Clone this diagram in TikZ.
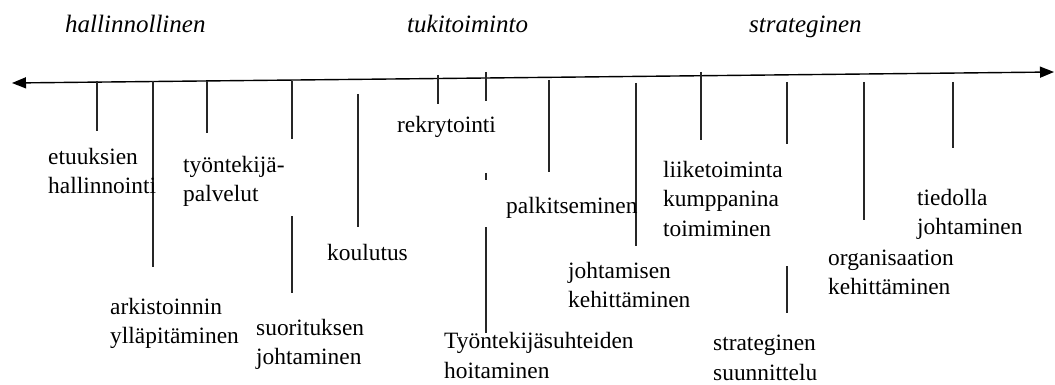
\documentclass[tikz,border=0pt]{standalone}
\usepackage{fontspec}
\setmainfont{Liberation Serif}
\usetikzlibrary{arrows.meta}
\begin{document}
\begin{tikzpicture}[x=1pt,y=-1pt,
  lbl/.style={anchor=base west,inner sep=0pt,align=left,font=\fontsize{23.4}{29.5}\selectfont},
  hdr/.style={anchor=base west,inner sep=0pt,font=\fontsize{25}{30}\selectfont\itshape},
  tick/.style={line width=1.2pt,draw=black!85},
  axisline/.style={line width=1.4pt,{Triangle[length=14pt,width=11pt]}-{Triangle[length=14pt,width=11pt]}}]
\useasboundingbox (0,0) rectangle (1055,385);
% axis
\coordinate (aL) at (12,83);
\coordinate (aR) at (1054,72);
\draw[axisline] (aL) -- (aR);
% headers
\node[hdr] (h1) at (65,33) {hallinnollinen};
\node[hdr] (h2) at (407,33) {tukitoiminto};
\node[hdr] (h3) at (749,33) {strateginen};
% ticks
\foreach \x/\ya/\yb in {97/81/131, 153/81/267, 207/81/133, 292/81/139, 292/216/293,
  358/94/227, 438/75/104, 486/72/101, 486/173/180, 486/227/333, 549/80/172,
  636/83/246, 701/72/140, 787/82/144, 787/266/313, 864/82/220, 953/82/148}
  {\draw[tick] (\x,\ya) -- (\x,\yb);}
% labels (anchor = baseline of last line)
\node[lbl] (l1) at (48,193.5) {etuuksien\\hallinnointi};
\node[lbl] (l2) at (183,201.5) {työntekijä-\\palvelut};
\node[lbl] (l3) at (110,343.5) {arkistoinnin\\ylläpitäminen};
\node[lbl] (l4) at (256,364.5) {suorituksen\\johtaminen};
\node[lbl] (l5) at (327,260) {koulutus};
\node[lbl] (l6) at (397,133) {rekrytointi};
\node[lbl] (l7) at (506,213) {palkitseminen};
\node[lbl] (l8) at (444,378) {Työntekijäsuhteiden\\hoitaminen};
\node[lbl] (l9) at (568,307.5) {johtamisen\\kehittäminen};
\node[lbl] (l10) at (663,236) {liiketoiminta\\kumppanina\\toimiminen};
\node[lbl] (l11) at (917,234.5) {tiedolla\\johtaminen};
\node[lbl] (l12) at (828,294.5) {organisaation\\kehittäminen};
\node[lbl] (l13) at (713,380) {strateginen\\suunnittelu};
\end{tikzpicture}
\end{document}
